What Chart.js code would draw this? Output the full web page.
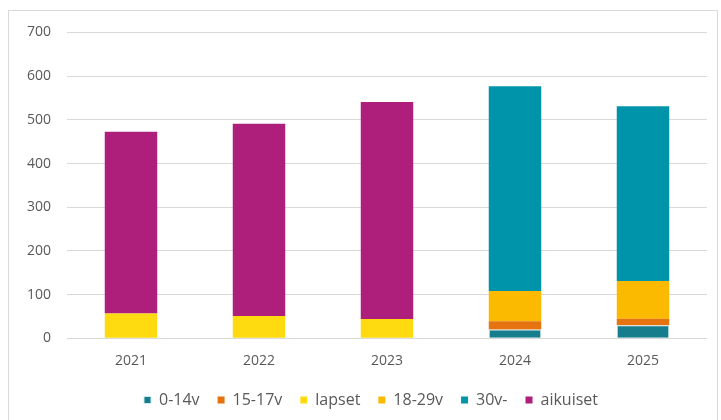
<!DOCTYPE html>
<html>
<head>
<meta charset="utf-8">
<script src="https://cdn.jsdelivr.net/npm/chart.js@4"></script>
<style>
  html, body { margin: 0; padding: 0; background: #fff; width: 721px; height: 420px; overflow: hidden; }
  #frame { position: absolute; left: 8px; top: 10px; width: 710px; height: 420px; border: 1px solid #d9d9d9; box-sizing: border-box; }
  #wrap { position: absolute; left: 0; top: 0; width: 721px; height: 420px; }
</style>
</head>
<body>
<div id="frame"></div>
<div id="wrap"><canvas id="c" width="721" height="420"></canvas></div>
<script>
const categories = ["2021", "2022", "2023", "2024", "2025"];
const seriesNames = ["0-14v", "15-17v", "lapset", "18-29v", "30v-", "aikuiset"];
const v0_14 = [0, 0, 0, 20, 30];
const v15_17 = [0, 0, 0, 19, 15];
const vLapset = [57, 51, 44, 0, 0];
const v18_29 = [0, 0, 0, 69, 86];
const v30 = [0, 0, 0, 469, 400];
const vAikuiset = [416, 440, 497, 0, 0];
const yTicks = [0, 100, 200, 300, 400, 500, 600, 700];

const colors = ["#157d8c", "#e5730f", "#fddb10", "#fbb900", "#0094aa", "#ae1f7c"];
const values = [v0_14, v15_17, vLapset, v18_29, v30, vAikuiset];

const datasets = seriesNames.map((n, i) => ({
  label: n,
  data: values[i],
  backgroundColor: colors[i],
  borderColor: i === 0 ? "#cde9ee" : colors[i],
  borderWidth: i === 0 ? 1 : 0,
  barPercentage: 0.41,
  categoryPercentage: 1.0
}));

const FONT = "'Open Sans', 'DejaVu Sans', sans-serif";
const TXT = "#595959";

const legendShift = {
  id: "legendShift",
  beforeDraw(chart) {
    const lg = chart.legend;
    if (lg && !lg._shifted) {
      lg.left += 17.5; lg.right += 17.5;
      lg._shifted = true;
    }
  },
  afterUpdate(chart) { if (chart.legend) chart.legend._shifted = false; }
};

new Chart(document.getElementById("c"), {
  type: "bar",
  data: { labels: categories, datasets },
  plugins: [legendShift],
  options: {
    responsive: false,
    animation: false,
    devicePixelRatio: 1,
    layout: { padding: { left: 0, right: 14, top: 32.5, bottom: 2 } },
    plugins: {
      tooltip: { enabled: false },
      legend: {
        position: "bottom",
        labels: {
          boxWidth: 7, boxHeight: 7,
          color: TXT,
          font: { family: FONT, size: 16 },
          padding: 18
        }
      }
    },
    scales: {
      x: {
        stacked: true,
        grid: { display: false },
        border: { display: false },
        ticks: { color: TXT, font: { family: FONT, size: 14 }, padding: 6 },
        afterFit: (s) => { s.height = 35.7; }
      },
      y: {
        stacked: true,
        min: 0, max: 700,
        afterBuildTicks: (s) => { s.ticks = yTicks.map(v => ({ value: v })); },
        grid: { color: "#d9d9d9", drawTicks: false, lineWidth: 1 },
        border: { display: false },
        ticks: { color: TXT, font: { family: FONT, size: 14 }, padding: 16 },
        afterFit: (s) => { s.width = 67; }
      }
    }
  }
});
</script>
</body>
</html>
